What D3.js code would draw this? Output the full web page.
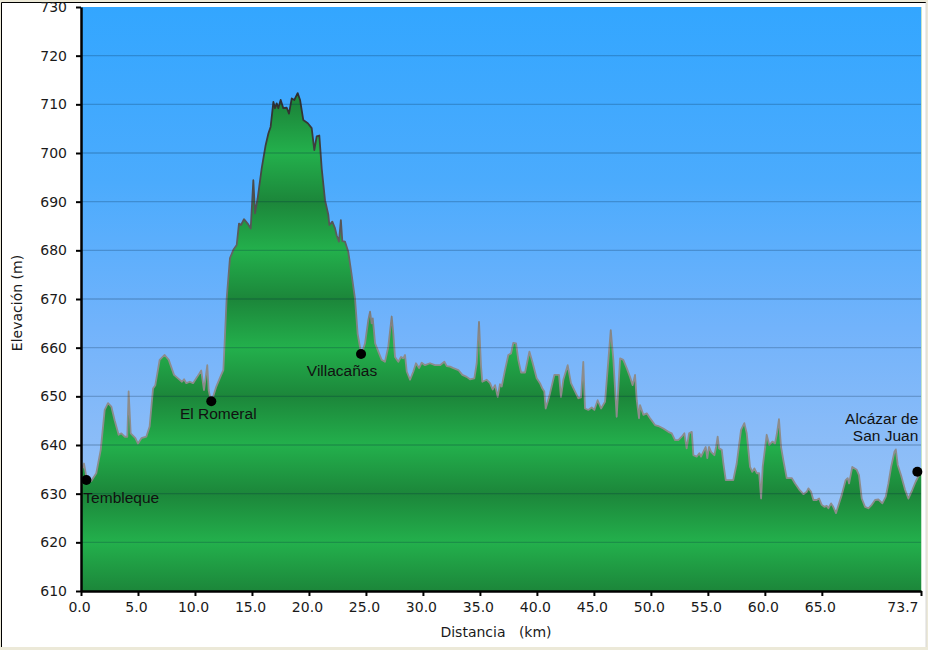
<!DOCTYPE html>
<html><head><meta charset="utf-8">
<script src="https://cdn.jsdelivr.net/npm/d3@7"></script>
<style>body{margin:0;background:#ece9d8;} svg{display:block;}</style>
</head><body>
<script>
// Distance (km) and elevation (m) of the profile
const dist = [0,0.26,0.47,0.9,1.34,1.73,2.08,2.37,2.66,2.95,3.3,3.54,3.83,4.06,4.18,4.36,4.77,5.0,5.3,5.73,6.02,6.32,6.52,6.9,7.34,7.7,8.16,8.51,8.86,9.04,9.24,9.54,9.83,10.2,10.55,10.79,11.08,11.2,11.43,11.87,12.3,12.49,12.78,13.07,13.37,13.66,13.86,14.04,14.3,14.62,14.89,15.12,15.27,15.5,15.85,16.2,16.44,16.64,16.88,17.02,17.17,17.31,17.52,17.75,18.05,18.25,18.49,18.72,19.01,19.22,19.5,19.9,20.24,20.47,20.68,20.91,21.12,21.41,21.7,21.79,22.05,22.29,22.43,22.63,22.8,22.93,23.16,23.45,23.75,24.04,24.27,24.6,24.92,25.21,25.36,25.5,25.6,25.8,26.09,26.38,26.67,26.96,27.26,27.4,27.55,27.84,28.08,28.28,28.43,28.58,28.87,29.16,29.39,29.66,29.89,30.18,30.62,31.06,31.5,31.88,32.09,32.38,32.67,33.11,33.46,33.84,34.13,34.51,34.72,34.92,35.1,35.21,35.6,35.89,36.12,36.33,36.56,36.76,36.91,37.2,37.49,37.73,37.93,38.17,38.37,38.61,38.96,39.34,39.6,39.98,40.27,40.48,40.65,40.77,40.95,41.15,41.53,41.94,42.11,42.32,42.7,42.99,43.34,43.64,43.87,44.07,44.22,44.51,44.81,45.04,45.33,45.63,45.98,46.27,46.48,46.71,47.0,47.3,47.58,47.88,48.17,48.4,48.61,48.76,48.96,49.05,49.34,49.64,49.93,50.36,50.66,51.09,51.53,51.83,52.12,52.41,52.71,52.94,53.14,53.35,53.59,53.73,54.02,54.25,54.4,54.6,54.81,54.95,55.1,55.28,55.57,55.72,55.86,55.98,56.22,56.36,56.57,57.23,57.53,57.91,58.2,58.41,58.7,58.9,59.08,59.29,59.5,59.67,59.81,60.16,60.39,60.66,60.89,61.04,61.24,61.42,61.62,61.92,62.36,62.65,63.0,63.38,63.68,63.82,64.05,64.26,64.55,64.76,64.99,65.22,65.43,65.57,65.81,66.0,66.24,66.74,67.09,67.27,67.39,67.67,68.06,68.26,68.5,68.79,69.08,69.38,69.67,69.96,70.31,70.61,70.84,71.08,71.37,71.49,71.66,71.95,72.3,72.59,72.94,73.24,73.53,73.7];
const elev = [634.2,636.2,633.5,632.6,634.2,639,647.2,648.6,647.9,645.1,642.1,642.4,641.7,641.7,651,642.4,641.4,640.3,641.4,641.7,643.8,651.6,652.3,657.5,658.5,657.5,654.4,653.7,653,653.5,652.7,653,652.7,654,655.3,651.3,656.4,651.3,648.7,652,654.4,655.4,670.1,678.4,680.1,681.1,685.5,685.2,686.4,685.5,684.5,694.4,687.6,690.7,696.8,701.6,704,705.4,710.5,709.2,710.2,709.2,710.9,709.2,709.3,708.1,711.2,710.9,712.3,710.9,706.8,706.1,705.1,700.6,703.4,703.6,696.8,690.3,687.3,685.2,685.9,684.5,683.1,681.8,686.2,681.9,681.8,679.7,674.9,670.1,662.9,658.5,660.9,665.7,667.4,665,666,660.9,659.2,657.5,657.1,660.2,666.4,662.9,658.1,657.1,658.1,657.8,658.5,655.1,653.4,655.1,656.8,655.8,656.9,656.4,656.8,656.4,656.4,657.1,656.2,656.1,655.8,655.4,654.4,654,653.5,653.7,656.8,665.3,656.1,653,653.4,652.7,651.4,652.3,649.9,652.5,652,655.4,658.5,658.8,661,660.9,657.5,654.9,654.9,659.2,657.1,653.7,652.7,651.6,651,647.5,648.9,650.6,654.4,654.4,649.9,653.4,656.4,652.7,651,649.6,649.8,657.1,647.5,647.2,647.7,647.2,649.2,647.5,648.9,657.5,663.6,657.5,645.8,657.8,657.5,655.8,654,652.3,654.4,649.2,645.5,648.2,646.2,646.5,645.5,644.1,643.9,643.4,642.7,642.4,641,641,641.7,642.4,639.3,642.4,642.7,637.9,637.6,638.3,637.6,638.6,639.6,637.3,639.6,638.6,637.9,639.6,641.7,639.3,639,636.2,632.8,632.8,636.2,643.1,644.5,642.4,635.5,634.5,635.2,634.2,634.2,629,635.5,642.1,640,640.7,640.3,642.1,645.3,639.6,636.9,633.2,633.2,632.1,630.9,629.9,630.4,631.1,630.4,628.7,628.7,629,627.7,627.3,627.5,627,628,627.3,626,629.7,632.8,633.2,632.1,635.5,634.9,633.8,629,627.3,627,627.7,628.7,628.8,628,629.4,632.1,635.5,638.6,639.1,635.9,633.8,630.8,629,630.8,632.5,633.8,634.2];

// Named places along the route
const placeNames = ["Tembleque", "El Romeral", "Villacañas", "Alcázar de\nSan Juan"];
const placeDist = [0.47, 11.43, 24.57, 73.38];
const placeElev = [632.8, 649.0, 658.7, 634.5];

// Axis ticks
const xTicks = [0,5,10,15,20,25,30,35,40,45,50,55,60,65,73.7];
const yTicks = [610,620,630,640,650,660,670,680,690,700,710,720,730];

const W = 928, H = 650;
const m = {top: 7, right: 7, bottom: 59, left: 81};
const iw = W - m.left - m.right, ih = H - m.top - m.bottom;

const svg = d3.select("body").append("svg").attr("width", W).attr("height", H);
const defs = svg.append("defs");

// frame
svg.append("rect").attr("width", W).attr("height", H).attr("fill", "#ece9d8");
svg.append("rect").attr("x", 1).attr("y", 2).attr("width", 925).attr("height", 645).attr("fill", "#fff");
svg.append("line").attr("x1", 1.5).attr("x2", 926).attr("y1", 2.5).attr("y2", 2.5).attr("stroke", "#000");
svg.append("line").attr("x1", 1.5).attr("x2", 1.5).attr("y1", 2.5).attr("y2", 647).attr("stroke", "#000");
svg.append("line").attr("x1", 926).attr("x2", 926).attr("y1", 2.5).attr("y2", 647).attr("stroke", "#d8d8d8");

const x = d3.scaleLinear().domain([0, 73.7]).range([m.left, m.left + iw]);
const y = d3.scaleLinear().domain([610, 730]).range([m.top + ih, m.top]);

// sky gradient
const sky = defs.append("linearGradient").attr("id", "sky")
  .attr("gradientUnits", "userSpaceOnUse").attr("x1", 0).attr("x2", 0)
  .attr("y1", m.top).attr("y2", m.top + ih);
[[0, "#33a6ff"], [0.3, "#4babfd"], [0.55, "#72b3fb"], [0.72, "#88bbf8"], [1, "#a3c8f5"]]
  .forEach(([o, c]) => sky.append("stop").attr("offset", o).attr("stop-color", c));

// banded green gradient (period 20 m)
const grn = defs.append("linearGradient").attr("id", "grn")
  .attr("gradientUnits", "userSpaceOnUse").attr("spreadMethod", "repeat")
  .attr("x1", 0).attr("x2", 0).attr("y1", y(630)).attr("y2", y(610));
[[0, "#1c863a"], [0.5, "#23b04c"], [1, "#1c863a"]]
  .forEach(([o, c]) => grn.append("stop").attr("offset", o).attr("stop-color", c));

// outline gradient
const ol = defs.append("linearGradient").attr("id", "ol")
  .attr("gradientUnits", "userSpaceOnUse").attr("x1", 0).attr("x2", 0)
  .attr("y1", y(712)).attr("y2", y(660));
[[0, "#2e2e2e"], [0.5, "#555"], [1, "#8c8c8c"]]
  .forEach(([o, c]) => ol.append("stop").attr("offset", o).attr("stop-color", c));

defs.append("clipPath").attr("id", "clip").append("rect")
  .attr("x", m.left).attr("y", m.top).attr("width", iw).attr("height", ih);

svg.append("rect").attr("x", m.left).attr("y", m.top).attr("width", iw).attr("height", ih)
  .attr("fill", "url(#sky)");

const pts = dist.map((d, i) => [d, elev[i]]);
const g = svg.append("g").attr("clip-path", "url(#clip)");
g.append("path").datum(pts)
  .attr("d", d3.area().x(d => x(d[0])).y0(y(610)).y1(d => y(d[1])))
  .attr("fill", "url(#grn)");
g.append("path").datum(pts)
  .attr("d", d3.line().x(d => x(d[0])).y(d => y(d[1])))
  .attr("fill", "none").attr("stroke", "url(#ol)").attr("stroke-width", 1.8)
  .attr("stroke-linejoin", "round");

// gridlines
g.selectAll("line.grid").data(yTicks.filter(v => v > 610 && v < 730)).join("line")
  .attr("class", "grid")
  .attr("x1", m.left).attr("x2", m.left + iw)
  .attr("y1", d => y(d)).attr("y2", d => y(d))
  .attr("stroke", "rgba(0,30,60,0.22)").attr("stroke-width", 1.3);

// right edge line
svg.append("line").attr("x1", m.left + iw + 0.5).attr("x2", m.left + iw + 0.5)
  .attr("y1", m.top).attr("y2", m.top + ih).attr("stroke", "#c5e4c8");

// places
const pl = svg.append("g");
placeNames.forEach((name, i) => {
  const cx = x(placeDist[i]), cy = y(placeElev[i]);
  pl.append("circle").attr("cx", cx).attr("cy", cy).attr("r", 5).attr("fill", "#000");
});
const lblStyle = t => t.attr("font-family", "'Liberation Sans', Arial, sans-serif")
  .attr("font-size", 15.5).attr("fill", "#111");
const offs = [
  {dx: -3, dy: 23, anchor: "start"},
  {dx: 7, dy: 18, anchor: "middle"},
  {dx: -19, dy: 22, anchor: "middle"},
  {dx: 1, dy: -48, anchor: "end"}
];
placeNames.forEach((name, i) => {
  const cx = x(placeDist[i]), cy = y(placeElev[i]);
  const o = offs[i];
  name.split("\n").forEach((line, k) => {
    pl.append("text").call(lblStyle)
      .attr("x", cx + o.dx).attr("y", cy + o.dy + k * 17)
      .attr("text-anchor", o.anchor).text(line);
  });
});

// axes
const fmt = d3.format(".1f");
const xAxis = svg.append("g").attr("transform", `translate(0,${m.top + ih})`)
  .call(d3.axisBottom(x).tickValues(xTicks).tickFormat(fmt).tickSize(5).tickSizeOuter(0).tickPadding(6));
const yAxis = svg.append("g").attr("transform", `translate(${m.left},0)`)
  .call(d3.axisLeft(y).tickValues(yTicks).tickFormat(d3.format("d")).tickSize(5).tickSizeOuter(0).tickPadding(9));
[xAxis, yAxis].forEach(a => {
  a.select(".domain").attr("stroke", "#000").attr("stroke-width", 2.5);
  a.selectAll(".tick line").attr("stroke", "#000").attr("stroke-width", 2);
  a.selectAll(".tick text").attr("font-family", "'DejaVu Sans', Verdana, sans-serif")
    .attr("font-size", 14).attr("fill", "#1a1a1a");
});
xAxis.selectAll(".tick text").attr("dx", -2);
xAxis.selectAll(".tick text").filter(d => d === 73.7).attr("text-anchor", "end").attr("dx", -3);

// axis titles
svg.append("text").attr("x", 496).attr("y", 637).attr("text-anchor", "middle")
  .attr("font-family", "'DejaVu Sans', Verdana, sans-serif").attr("font-size", 14).attr("fill", "#1a1a1a")
  .style("white-space", "pre").text("Distancia   (km)");
svg.append("text").attr("transform", "translate(22,303) rotate(-90)").attr("text-anchor", "middle")
  .attr("font-family", "'DejaVu Sans', Verdana, sans-serif").attr("font-size", 14).attr("fill", "#1a1a1a")
  .text("Elevación (m)");
</script>
</body></html>
